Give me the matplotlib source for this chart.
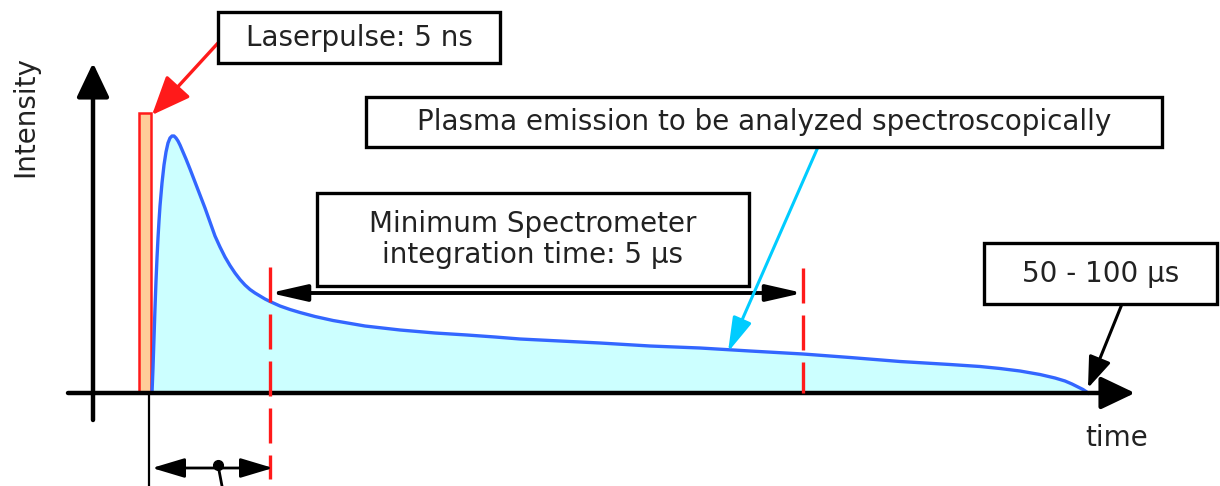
import matplotlib
matplotlib.use("Agg")
import matplotlib.pyplot as plt
from matplotlib.patches import Rectangle, FancyArrowPatch

# plasma emission curve (time in px, intensity above the baseline)
time = [152, 153, 154, 155, 156, 157, 158, 159, 160, 162, 164, 166, 168, 170,
        172, 174, 176, 178, 180, 183, 186, 190, 195, 200, 205, 210, 215, 220,
        225, 230, 235, 240, 245, 250, 255, 260, 265, 270, 280, 290, 300, 315,
        333, 365, 400, 435, 467, 495, 520, 560, 600, 650, 700, 750, 803, 850,
        900, 950, 980, 1000, 1020, 1040, 1055, 1065, 1072, 1078, 1083, 1086,
        1088]
intensity = [0, 25, 55, 85, 112, 135, 155, 172, 187, 210, 228, 241, 250, 255,
             257, 257, 255, 252, 248, 241, 234, 224, 211, 198, 185, 171, 157, 146,
             136, 127.5, 120, 113.5, 108, 103.5, 100, 97, 94, 91.5, 87, 83.5, 80.5, 76.5,
             72.5, 67, 63, 60, 58, 56, 54, 52, 50, 47, 45, 42, 39, 35.5,
             31.5, 28.5, 26.5, 24.5, 22, 18.5, 15, 12, 9, 6, 3.5, 1.5,
             0]

laser_pulse = (139, 151, 280)      # start, end, height
gate_start, gate_end = 270, 803    # spectrometer integration window
decay_end = 1088

box_labels = ["Laserpulse: 5 ns",
              "Plasma emission to be analyzed spectroscopically",
              "Minimum Spectrometer\nintegration time: 5 \u00b5s",
              "50 - 100 \u00b5s"]
box_extents = [(218, 500, 330, 381),
               (366, 1162, 246, 296),
               (317, 749, 107, 200),
               (984, 1217, 89, 150)]

fig = plt.figure(figsize=(12.2, 4.86), dpi=100)
ax = fig.add_axes([0, 0, 1, 1])
ax.set_xlim(0, 1220)
ax.set_ylim(-93, 393)
ax.axis("off")

txt = "#222222"
fs = 20


def arrow(p0, p1, color, lw, style, scale=1.0, z=5):
    a = FancyArrowPatch(p0, p1, arrowstyle=style, color=color, lw=lw,
                        mutation_scale=scale, shrinkA=0, shrinkB=0, zorder=z)
    ax.add_patch(a)


# curve and fill
ax.fill_between(time, intensity, 0, color="#ccffff", lw=0, zorder=1)
ax.plot(time, intensity, color="#3366ff", lw=2.4, zorder=3,
        solid_joinstyle="round")

# laser pulse
ax.add_patch(Rectangle((laser_pulse[0], 0), laser_pulse[1] - laser_pulse[0],
                       laser_pulse[2], facecolor="#ffcc99", edgecolor="#ff1a1a",
                       lw=1.8, zorder=2))

# axes arrows
arrow((68, 0), (1135, 0), "black", 3.2, "-|>,head_length=21,head_width=10", z=4)
arrow((93, -27), (93, 330), "black", 3.2, "-|>,head_length=21,head_width=10", z=4)

# gate lines
ax.plot([gate_start, gate_start], [126, -86], color="#ff1a1a", lw=2.4,
        dashes=(10.5, 3.6), zorder=4)
ax.plot([gate_end, gate_end], [125, 0], color="#ff1a1a", lw=2.4,
        dashes=(10.5, 3.6), zorder=4)
ax.plot([149, 149], [0, -93], color="black", lw=1.6, zorder=4)

# integration time arrow
arrow((gate_start, 100), (gate_end, 100), "black", 2.8,
      "<|-|>,head_length=22,head_width=5", z=5)

# delay arrow at the bottom
arrow((152, -75), (273, -75), "black", 2.0,
      "<|-|>,head_length=20,head_width=6", z=5)
ax.plot([218, 222], [-72, -93], color="black", lw=2.0, zorder=5)
ax.plot([218], [-72], "o", color="black", ms=7, zorder=5)

# pointer arrows
arrow((218, 350), (152, 278), "#ff1a1a", 2.4,
      "-|>,head_length=24,head_width=10", z=6)
arrow((818, 246), (728, 41), "#00ccff", 2.2,
      "-|>,head_length=21,head_width=6", z=6)
arrow((1122, 89), (decay_end, 5), "black", 2.2,
      "-|>,head_length=19,head_width=7", z=6)

# text boxes
for label, (x0, x1, y0, y1) in zip(box_labels, box_extents):
    ax.add_patch(Rectangle((x0, y0), x1 - x0, y1 - y0, facecolor="white",
                           edgecolor="black", lw=2.4, zorder=7))
    ax.text((x0 + x1) / 2, (y0 + y1) / 2, label, ha="center", va="center",
            fontsize=fs, color=txt, linespacing=1.1, zorder=8)

ax.text(25, 276, "Intensity", rotation=90, ha="center", va="center",
        fontsize=fs, color=txt)
ax.text(1117, -45, "time", ha="center", va="center", fontsize=fs, color=txt)

fig.savefig("out.png", dpi=100)
